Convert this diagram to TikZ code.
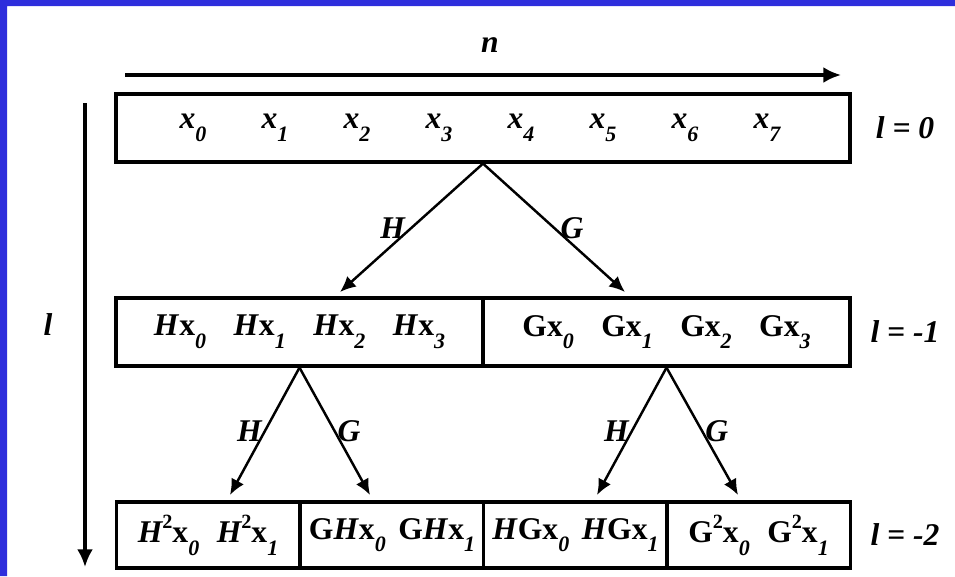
\documentclass[tikz,border=0pt]{standalone}
\usepackage{fontspec}
\setmainfont{Liberation Serif}
\usetikzlibrary{arrows.meta,positioning}
\definecolor{frameblue}{HTML}{2E2EDC}
\newcommand{\idx}[1]{\raisebox{-0.4em}{\fontsize{12.5}{12.5}\selectfont\bfseries\itshape #1}}
\newcommand{\pw}[1]{\raisebox{0.45em}{\fontsize{11.5}{11.5}\selectfont\bfseries\upshape #1}}
\newcommand{\bx}{\textup{x}}
\newcommand{\gu}{\textup{G}}

\begin{document}
\begin{tikzpicture}[x=0.02cm,y=-0.02cm,>={Latex[length=10pt,width=9pt]},
  lbl/.style={font=\fontsize{18}{21}\selectfont\bfseries\itshape,inner sep=1pt},
  cell/.style={draw,line width=1.8pt,inner sep=0pt,minimum height=1.36cm,font=\fontsize{18}{21}\selectfont\bfseries\itshape},
  axis/.style={->,line width=1.8pt},
  split/.style={-{Latex[length=9pt,width=8pt]},line width=1.4pt}]
\useasboundingbox (0,0) rectangle (955,576);
\fill[frameblue] (0,0) rectangle (7,576) (0,0) rectangle (955,6);

% axes
\node[lbl] (n) at (490,45) {n};
\coordinate (nL) at (125,75);
\coordinate (nR) at (841,75);
\draw[axis] (nL) -- (nR);
\node[lbl] (l) at (48,325) {l};
\coordinate (lT) at (85,103);
\coordinate (lB) at (85,567);
\draw[axis] (lT) -- (lB);

% level 0
\node[cell,minimum width=14.68cm] (top) at (483,128) {};
\foreach \i in {0,...,7}
  \node[lbl] (x\i) at (193+82*\i,128) {x\idx{\i}};
\node[lbl] (l0) at (905,128) {l = 0};

% level -1
\node[cell,minimum width=7.34cm] (midH) at (299.5,332)
  {H\bx\idx{0}\hspace{0.55cm}H\bx\idx{1}\hspace{0.55cm}H\bx\idx{2}\hspace{0.55cm}H\bx\idx{3}};
\node[cell,minimum width=7.34cm] (midG) at (666.5,332)
  {\gu\bx\idx{0}\hspace{0.55cm}\gu\bx\idx{1}\hspace{0.55cm}\gu\bx\idx{2}\hspace{0.55cm}\gu\bx\idx{3}};
\node[lbl] (l1) at (905,332) {l = -1};

% level -2
\node[cell,minimum width=3.67cm,minimum height=1.32cm] (hh) at (208,535)
  {H\pw{2}\bx\idx{0}\hspace{0.35cm}H\pw{2}\bx\idx{1}};
\node[cell,minimum width=3.67cm,minimum height=1.32cm] (gh) at (392,535)
  {\gu H\bx\idx{0}\hspace{0.25cm}\gu H\bx\idx{1}};
\node[cell,minimum width=3.67cm,minimum height=1.32cm] (hg) at (575.5,535)
  {H\gu\bx\idx{0}\hspace{0.25cm}H\gu\bx\idx{1}};
\node[cell,minimum width=3.67cm,minimum height=1.32cm] (gg) at (758.5,535)
  {\gu\pw{2}\bx\idx{0}\hspace{0.35cm}\gu\pw{2}\bx\idx{1}};
\node[lbl] (l2) at (905,535) {l = -2};

% filter arrows
\coordinate (toH) at (340,292);
\coordinate (toG) at (625,292);
\draw[split] (top.south) -- node[lbl,left=2pt]{H} (toH);
\draw[split] (top.south) -- node[lbl,right=2pt]{G} (toG);
\coordinate (toHH) at (230,495);
\coordinate (toGH) at (370,495);
\draw[split] (midH.south) -- node[lbl,left=0pt]{H} (toHH);
\draw[split] (midH.south) -- node[lbl,right=0pt]{G} (toGH);
\coordinate (toHG) at (597,495);
\coordinate (toGG) at (738,495);
\draw[split] (midG.south) -- node[lbl,left=0pt]{H} (toHG);
\draw[split] (midG.south) -- node[lbl,right=0pt]{G} (toGG);
\end{tikzpicture}
\end{document}
